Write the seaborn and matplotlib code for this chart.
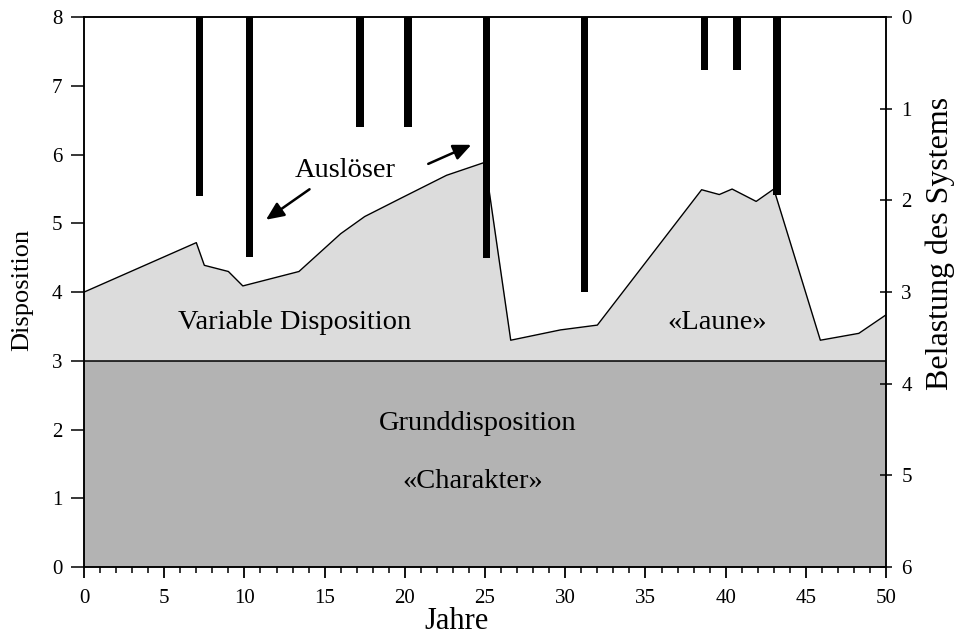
import matplotlib
matplotlib.use("Agg")
import matplotlib.pyplot as plt
import seaborn as sns
import pandas as pd
import numpy as np

# --- data -------------------------------------------------------------
years = [0, 7.0, 7.5, 9.0, 9.9, 13.4, 16.0, 17.5, 19.7, 22.6, 25.0, 25.4,
         26.6, 29.7, 32.0, 38.5, 39.6, 40.4, 41.9, 43.0, 45.9, 48.3, 50]
disposition = [4.0, 4.72, 4.39, 4.30, 4.09, 4.30, 4.85, 5.10, 5.36, 5.70, 5.89, 5.24,
               3.30, 3.45, 3.52, 5.49, 5.42, 5.50, 5.32, 5.50, 3.30, 3.40, 3.67]
base_level = 3.0

trigger_years = [7.2, 10.3, 17.2, 20.2, 25.1, 31.2, 38.7, 40.7, 43.2]
trigger_load = [1.95, 2.62, 1.2, 1.2, 2.63, 3.0, 0.58, 0.58, 1.94]

x_ticks = [0, 5, 10, 15, 20, 25, 30, 35, 40, 45, 50]
left_ticks = [0, 1, 2, 3, 4, 5, 6, 7, 8]
right_ticks = [0, 1, 2, 3, 4, 5, 6]

# --- style ------------------------------------------------------------
sns.set_theme(style="ticks")
plt.rcParams['font.family'] = ['Liberation Serif', 'DejaVu Serif']
plt.rcParams['axes.linewidth'] = 1.1
plt.rcParams['text.color'] = 'black'

fig = plt.figure(figsize=(9.59, 6.39), dpi=100)
ax = fig.add_axes([0.0876, 0.1127, 0.8364, 0.8603])

df = pd.DataFrame({"Jahre": years, "Disposition": disposition})

light = "#dcdcdc"
dark = "#b3b3b3"

ax.fill_between(df["Jahre"], base_level, df["Disposition"], color=light, lw=0, zorder=1)
ax.fill_between([0, 50], 0, base_level, color=dark, lw=0, zorder=1)
ax.axhline(base_level, color="black", lw=1.1, zorder=3)
sns.lineplot(data=df, x="Jahre", y="Disposition", sort=False, color="black",
             lw=1.0, ax=ax, zorder=3)

ax.set_xlim(0, 50)
ax.set_ylim(0, 8)
ax.set_xticks(x_ticks)
ax.set_xticks(np.arange(0, 51, 1), minor=True)
ax.set_yticks(left_ticks)
ax.tick_params(axis='x', which='major', direction='out', length=8, width=1.3,
               labelsize=15, pad=8, colors='black')
ax.tick_params(axis='x', which='minor', direction='out', length=4.3, width=1.1,
               colors='black')
ax.tick_params(axis='y', which='major', direction='out', length=9.4, width=1.1,
               labelsize=15, pad=6, colors='black')
ax.set_xlabel("Jahre", fontsize=22, color="black", va="center")
ax.xaxis.set_label_coords(0.465, -0.1)
ax.set_ylabel("Disposition", fontsize=19, color="black", va="center")
ax.yaxis.set_label_coords(-0.077, 0.504)
for s in ax.spines.values():
    s.set_color("black")

ax2 = ax.twinx()
ax2.bar(trigger_years, trigger_load, bottom=0, width=0.45, color="black",
        edgecolor="black", linewidth=0, align="center", zorder=4)
ax2.set_ylim(6, 0)
ax2.set_yticks(right_ticks)
ax2.tick_params(axis='y', which='major', direction='inout', length=8, width=1.1,
                labelsize=15, pad=7, colors='black')
ax2.set_ylabel("Belastung des Systems", fontsize=23, rotation=90, color="black",
               va="center")
ax2.yaxis.set_label_coords(1.067, 0.589)
for s in ax2.spines.values():
    s.set_color("black")

# --- annotations ------------------------------------------------------
ax.text(16.3, 5.77, "Auslöser", fontsize=20.5, ha="center", va="center", zorder=5)
ax.annotate("", xy=(11.2, 5.03), xytext=(14.2, 5.52),
            arrowprops=dict(arrowstyle="-|>,head_length=0.9,head_width=0.4",
                            color="black", lw=1.8), zorder=5)
ax.annotate("", xy=(24.3, 6.16), xytext=(21.3, 5.85),
            arrowprops=dict(arrowstyle="-|>,head_length=0.9,head_width=0.4",
                            color="black", lw=1.8), zorder=5)
ax.text(13.15, 3.56, "Variable Disposition", fontsize=20.5, ha="center", va="center", zorder=5)
ax.text(39.5, 3.56, "«Laune»", fontsize=20.5, ha="center", va="center", zorder=5)
ax.text(24.55, 2.09, "Grunddisposition", fontsize=20.5, ha="center", va="center", zorder=5)
ax.text(24.25, 1.25, "«Charakter»", fontsize=20.5, ha="center", va="center", zorder=5)

fig.savefig("out.png", dpi=100)
